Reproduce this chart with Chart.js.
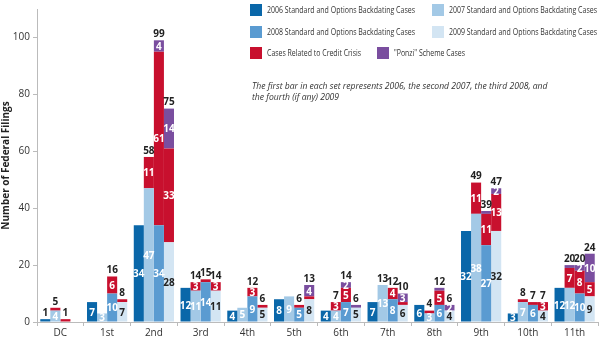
<!DOCTYPE html>
<html>
<head>
<meta charset="utf-8">
<script src="https://cdn.jsdelivr.net/npm/chart.js@4.4.1/dist/chart.umd.min.js"></script>
<style>
  body { margin: 0; background: #fff; font-family: "Open Sans", sans-serif; }
  #wrap { position: relative; width: 600px; height: 338px; }
  #legend { position: absolute; left: 0; top: 0; width: 600px; font-size: 9px; color: #333; }
  .item { position: absolute; height: 12px; line-height: 12px; white-space: nowrap; }
  .box { position: absolute; left: 0; top: 0; width: 12px; height: 12px; }
  .txt { position: absolute; left: 17px; top: 0; transform-origin: left center; }
  #note { position: absolute; left: 252px; top: 81px; font-size: 8.6px; font-style: italic; color: #333; line-height: 11px; white-space: nowrap; }
</style>
</head>
<body>
<div id="wrap">
  <canvas id="filingsChart" width="600" height="338"></canvas>
  <div id="legend"></div>
  <div id="note">The first bar in each set represents 2006, the second 2007, the third 2008, and<br>the fourth (if any) 2009</div>
</div>
<script>
// Circuits
const circuits = ['DC', '1st', '2nd', '3rd', '4th', '5th', '6th', '7th', '8th', '9th', '10th', '11th'];

// Standard and options backdating cases, one array per year
const backdating2006 = [1, 7, 34, 12, 4, 8, 4, 7, 6, 32, 3, 12];
const backdating2007 = [4, 3, 47, 11, 5, 9, 4, 13, 3, 38, 7, 12];
const backdating2008 = [null, 10, 34, 14, 9, 5, 7, 8, 6, 27, 6, 10];
const backdating2009 = [null, 7, 28, 11, 5, 8, 5, 6, 4, 32, 4, 9];

// Cases related to credit crisis (stacked on the 2007-2009 bars)
const credit2007 = [1, null, 11, 3, null, null, 3, 0, 1, 11, 1, 7];
const credit2008 = [1, 6, 61, 1, 3, 1, 5, 4, 5, 11, 1, 8];
const credit2009 = [null, 1, 33, 3, 1, 1, null, 1, null, 13, 3, 5];

// "Ponzi" scheme cases
const ponzi2007 = [null, null, null, null, null, null, null, null, null, null, null, 1];
const ponzi2008 = [null, null, 4, null, null, null, 2, null, 1, 1, null, 2];
const ponzi2009 = [null, null, 14, null, null, 4, 1, 3, 2, 2, null, 10];

const yTicks = [0, 20, 40, 60, 80, 100];

const colors = {
    '2006': '#0a67a9',
    '2007': '#a3c9e6',
    '2008': '#5a9bd1',
    '2009': '#d3e5f3',
    credit: '#c8102e',
    ponzi: '#7a4e9f'
};

// text, colour, left, top, text width in the picture
const legendItems = [
    ['2006 Standard and Options Backdating Cases', colors['2006'], 250, 4, 148],
    ['2007 Standard and Options Backdating Cases', colors['2007'], 432, 4, 148],
    ['2008 Standard and Options Backdating Cases', colors['2008'], 250, 26, 148],
    ['2009 Standard and Options Backdating Cases', colors['2009'], 432, 26, 148],
    ['Cases Related to Credit Crisis', colors.credit, 250, 47, 94],
    ['"Ponzi" Scheme Cases', colors.ponzi, 377, 47, 71]
];

const legendEl = document.getElementById('legend');
legendItems.forEach(([text, color, x, y, w]) => {
    const div = document.createElement('div');
    div.className = 'item';
    div.style.left = x + 'px';
    div.style.top = y + 'px';
    div.innerHTML = '<span class="box" style="background:' + color + '"></span><span class="txt">' + text + '</span>';
    legendEl.appendChild(div);
    const txt = div.querySelector('.txt');
    const natural = txt.getBoundingClientRect().width;
    txt.style.transform = 'scaleX(' + (w / natural) + ')';
});

function makeSet(data, year, color, kind) {
    return {
        label: kind + ' ' + year,
        data: data,
        stack: year,
        kind: kind,
        backgroundColor: color,
        borderWidth: 0,
        barPercentage: 1.0,
        categoryPercentage: 0.86
    };
}

const datasets = [
    makeSet(backdating2006, '2006', colors['2006'], 'base'),
    makeSet(backdating2007, '2007', colors['2007'], 'base'),
    makeSet(backdating2008, '2008', colors['2008'], 'base'),
    makeSet(backdating2009, '2009', colors['2009'], 'base'),
    makeSet(credit2007, '2007', colors.credit, 'credit'),
    makeSet(credit2008, '2008', colors.credit, 'credit'),
    makeSet(credit2009, '2009', colors.credit, 'credit'),
    makeSet(ponzi2007, '2007', colors.ponzi, 'ponzi'),
    makeSet(ponzi2008, '2008', colors.ponzi, 'ponzi'),
    makeSet(ponzi2009, '2009', colors.ponzi, 'ponzi')
];

// Draws the numbers inside each segment and the totals on top of the bars
const barLabels = {
    id: 'barLabels',
    afterDatasetsDraw(chart) {
        const ctx = chart.ctx;
        ctx.save();
        ctx.font = 'bold 10px "Open Sans", sans-serif';
        ctx.textAlign = 'center';
        ctx.textBaseline = 'middle';

        const tops = {};
        chart.data.datasets.forEach((ds, di) => {
            const meta = chart.getDatasetMeta(di);
            meta.data.forEach((bar, i) => {
                const v = ds.data[i];
                if (v === null || v === undefined) return;
                const key = ds.stack + '_' + i;
                if (!tops[key]) tops[key] = { total: 0, parts: 0, x: bar.x, y: bar.y };
                tops[key].total += v;
                tops[key].parts += 1;
                if (bar.y < tops[key].y) tops[key].y = bar.y;
                if (v >= 2) {
                    ctx.fillStyle = (ds.kind === 'base' && ds.stack === '2009') ? '#222' : '#fff';
                    ctx.fillText(v, bar.x, (bar.y + bar.base) / 2 + 1);
                }
            });
        });

        ctx.fillStyle = '#222';
        ctx.textBaseline = 'bottom';
        Object.values(tops).forEach(t => {
            if (t.parts > 1 || t.total < 2) {
                ctx.fillText(t.total, t.x, t.y - 1);
            }
        });
        ctx.restore();
    }
};

const ctx = document.getElementById('filingsChart').getContext('2d');
new Chart(ctx, {
    type: 'bar',
    data: { labels: circuits, datasets: datasets },
    plugins: [barLabels],
    options: {
        responsive: false,
        animation: false,
        layout: { padding: { top: 2, right: 2, left: 0, bottom: 0 } },
        plugins: {
            legend: { display: false },
            tooltip: { enabled: false }
        },
        scales: {
            x: {
                stacked: true,
                grid: { drawOnChartArea: false, color: '#bbb', tickLength: 4 },
                border: { color: '#bbb' },
                ticks: { color: '#333', font: { size: 10, family: 'Open Sans' }, padding: 1 },
                afterFit(scale) { scale.height = 16; }
            },
            y: {
                stacked: true,
                min: 0,
                max: 110,
                afterBuildTicks(scale) { scale.ticks = yTicks.map(v => ({ value: v })); },
                grid: { drawOnChartArea: false, color: '#bbb', tickLength: 4 },
                border: { color: '#bbb' },
                ticks: { color: '#333', font: { size: 10, family: 'Open Sans' }, padding: 3 },
                title: {
                    display: true,
                    text: 'Number of Federal Filings',
                    color: '#222',
                    font: { size: 10, weight: 'bold', family: 'Open Sans' },
                    padding: { top: 0, bottom: 2 }
                },
                afterFit(scale) { scale.width = 37; }
            }
        }
    }
});
</script>
</body>
</html>
